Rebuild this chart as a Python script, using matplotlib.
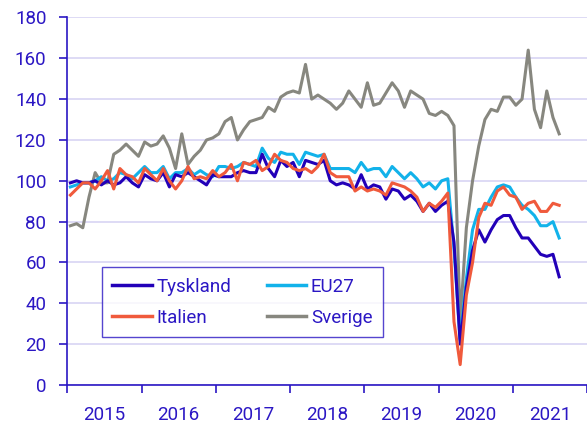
import matplotlib.pyplot as plt
import matplotlib.ticker as mticker

# --- Data (monthly index, jan 2015 - aug 2021) ---
years = ["2015", "2016", "2017", "2018", "2019", "2020", "2021"]

tyskland = [99, 100, 99, 99, 100, 98, 100, 98, 99, 102, 99, 97,
            103, 101, 100, 104, 97, 103, 102, 104, 102, 100, 98, 103,
            102, 102, 102, 104, 105, 104, 104, 113, 106, 102, 110, 107,
            109, 102, 110, 109, 108, 110, 100, 98, 99, 98, 96, 103,
            96, 98, 97, 91, 96, 95, 91, 93, 90, 85, 89, 85,
            88, 90, 70, 20, 48, 66, 76, 70, 76, 81, 83, 83,
            77, 72, 72, 68, 64, 63, 64, 53]

eu27 = [97, 98, 99, 99, 100, 102, 100, 101, 104, 103, 101, 104,
        107, 104, 104, 107, 101, 104, 104, 106, 103, 105, 103, 102,
        107, 107, 106, 107, 109, 108, 107, 116, 111, 109, 114, 113,
        113, 108, 114, 113, 112, 113, 106, 106, 106, 106, 104, 109,
        105, 106, 106, 102, 107, 104, 101, 104, 101, 97, 99, 96,
        100, 101, 67, 22, 52, 76, 86, 86, 92, 97, 98, 97,
        92, 88, 86, 83, 78, 78, 80, 72]

italien = [93, 96, 99, 99, 96, 100, 105, 96, 106, 103, 102, 99,
           106, 103, 100, 106, 100, 96, 100, 107, 101, 102, 101, 105,
           102, 104, 108, 100, 109, 108, 110, 105, 107, 113, 110, 109,
           106, 105, 106, 104, 107, 113, 104, 102, 102, 102, 95, 97,
           95, 96, 95, 93, 99, 98, 97, 95, 92, 85, 89, 87,
           90, 94, 31, 10, 44, 60, 82, 89, 88, 95, 97, 93,
           92, 86, 89, 90, 85, 85, 89, 88]

sverige = [78, 79, 77, 92, 104, 99, 99, 113, 115, 118, 115, 112,
           119, 117, 118, 122, 116, 106, 123, 108, 112, 115, 120, 121,
           123, 129, 131, 120, 125, 129, 130, 131, 136, 134, 141, 143,
           144, 143, 157, 140, 142, 140, 138, 135, 138, 144, 140, 136,
           148, 137, 138, 143, 148, 144, 136, 144, 142, 140, 133, 132,
           134, 132, 127, 31, 77, 100, 117, 130, 135, 134, 141, 141,
           137, 140, 164, 135, 126, 144, 131, 123]

# --- Style ---
ink = '#2b17c4'
plt.rcParams['font.family'] = ['Roboto', 'DejaVu Sans']

fig = plt.figure(figsize=(5.87, 4.23), dpi=100)
ax = fig.add_axes([0.1147, 0.0898, 0.8853, 0.869])

x = list(range(len(tyskland)))
ax.plot(x, sverige, color='#87877f', linewidth=2.2, label='Sverige')
ax.plot(x, eu27, color='#12b2ea', linewidth=2.2, label='EU27')
ax.plot(x, tyskland, color='#2200b8', linewidth=2.2, label='Tyskland')
ax.plot(x, italien, color='#f05a3c', linewidth=2.2, label='Italien')

# --- Axes formatting ---
ax.set_xlim(-0.5, 83.5)
ax.set_ylim(0, 180)
ax.set_yticks(range(0, 181, 20))
ax.grid(axis='y', color='#d8d4f4', linewidth=1.2)
ax.set_axisbelow(True)

for side in ['top', 'right']:
    ax.spines[side].set_visible(False)
for side in ['left', 'bottom']:
    ax.spines[side].set_color(ink)
    ax.spines[side].set_linewidth(1.2)

ax.xaxis.set_major_locator(mticker.FixedLocator([-0.5 + 12 * k for k in range(8)]))
ax.xaxis.set_major_formatter(mticker.NullFormatter())
ax.xaxis.set_minor_locator(mticker.FixedLocator([5.5 + 12 * k for k in range(len(years))]))
ax.xaxis.set_minor_formatter(mticker.FixedFormatter(years))
ax.tick_params(axis='x', which='major', length=6, width=1.2, color=ink)
ax.tick_params(axis='x', which='minor', length=0, pad=15, labelcolor=ink, labelsize=13.5)
ax.tick_params(axis='y', length=6, width=1.2, color=ink, pad=9, labelcolor=ink, labelsize=13.5)

# --- Legend (row 1: Tyskland, EU27 / row 2: Italien, Sverige) ---
handles, labels = ax.get_legend_handles_labels()
order = [2, 3, 1, 0]
leg = fig.legend([handles[i] for i in order], [labels[i] for i in order],
                 ncol=2, loc='lower left', bbox_to_anchor=(102 / 587, 1 - 337 / 423),
                 borderaxespad=0, fontsize=13.5, frameon=True, fancybox=False,
                 handlelength=2.1, handletextpad=0.25, columnspacing=1.9,
                 borderpad=0.55, labelspacing=0.7, labelcolor=ink)
leg.get_frame().set_edgecolor(ink)
leg.get_frame().set_linewidth(1.0)
for line in leg.get_lines():
    line.set_linewidth(2.5)

plt.savefig('out.png', dpi=100)
